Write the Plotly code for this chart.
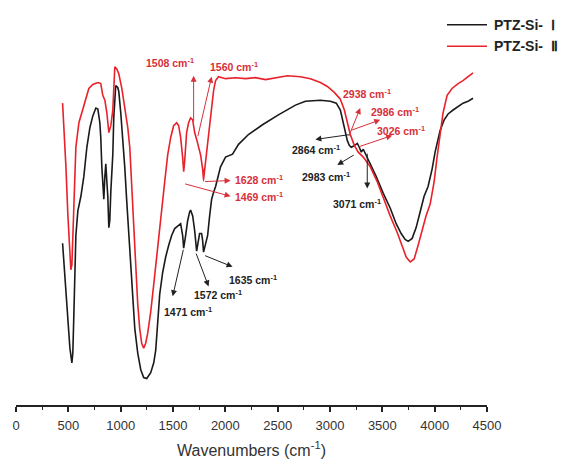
import plotly.graph_objects as go

# PTZ-Si-I (black) : wavenumber, transmittance (a.u.)
wn_1 = [445, 458, 477, 496, 515, 534, 543, 553, 563, 572, 591, 620, 648, 677, 706, 734, 763, 782, 801, 810,
        820, 829, 839, 849, 858, 868, 877, 887, 896, 906, 925, 934, 944, 953, 972, 982, 1001, 1020, 1039, 1058,
        1077, 1096, 1115, 1135, 1163, 1192, 1220, 1249, 1287, 1316, 1335, 1354, 1373, 1401, 1430, 1459, 1487,
        1516, 1545, 1573, 1592, 1602, 1621, 1640, 1659, 1668, 1688, 1707, 1726, 1735, 1754, 1773, 1783, 1792,
        1811, 1831, 1850, 1869, 1888, 1907, 1954, 2002, 2069, 2126, 2221, 2355, 2507, 2670, 2765,
        2908, 3003, 3060, 3099, 3127, 3146, 3165, 3184, 3203, 3222, 3242, 3261, 3280, 3299, 3318, 3346, 3385,
        3442, 3509, 3575, 3632, 3680, 3718, 3747, 3785, 3823, 3861, 3899, 3937, 3976, 4004, 4023, 4052, 4091,
        4128, 4176, 4224, 4271, 4319, 4367]
t_1 = [165, 143, 113, 83, 58, 43, 53, 93, 138, 173, 198, 213, 233, 263, 283, 295, 303, 302, 288, 273,
       243, 223, 210, 233, 246, 228, 213, 181, 188, 218, 256, 293, 318, 326, 324, 320, 298, 273, 243, 208,
       173, 138, 106, 78, 53, 36, 28, 27, 33, 43, 56, 83, 113, 135, 151, 163, 173,
       180, 183, 185, 173, 160, 173, 188, 197, 199, 193, 178, 157, 163, 175, 175, 168, 156,
       163, 173, 193, 210, 217, 223, 243, 253, 256, 266, 276, 286, 296, 306, 310,
       311, 310, 308, 301, 288, 278, 270, 265, 263, 264, 266, 267, 263, 258, 261, 255, 246,
       233, 216, 201, 185, 175, 169, 167, 170, 181, 197, 213, 223, 241, 258, 268, 280, 291,
       297, 301, 305, 308, 310, 313]

# PTZ-Si-II (red)
wn_2 = [445, 458, 477, 496, 515, 524, 534, 543, 553, 572, 601, 620, 658, 696, 734, 782, 810, 829, 849, 868,
        887, 906, 925, 934, 944, 963, 982, 1011, 1039, 1068, 1087, 1106, 1125, 1144, 1163, 1182, 1201, 1220,
        1239, 1258, 1287, 1316, 1344, 1382, 1421, 1449, 1478, 1506, 1535, 1554, 1573, 1592, 1602, 1611, 1630,
        1649, 1668, 1688, 1707, 1726, 1745, 1764, 1783, 1792, 1811, 1831, 1850, 1869, 1888, 1907, 1935, 2002,
        2097, 2193, 2288, 2384, 2479, 2593, 2717, 2813, 2908, 2975, 3041, 3099, 3137, 3165, 3194, 3232, 3270,
        3318, 3385, 3451, 3518, 3575, 3642, 3690, 3728, 3766, 3804, 3842, 3880, 3918, 3957, 3995, 4023, 4052,
        4080, 4119, 4166, 4224, 4271, 4319, 4367]
t_2 = [308, 283, 243, 193, 153, 138, 143, 173, 213, 263, 288, 295, 308, 323, 327, 329, 328, 316, 311, 298,
       278, 285, 301, 328, 345, 343, 338, 323, 303, 283, 263, 223, 173, 133, 103, 78, 63, 58,
       63, 73, 95, 123, 153, 190, 228, 255, 273, 285, 288, 285, 273, 253, 238, 248, 278,
       288, 293, 291, 278, 271, 263, 255, 241, 230, 248, 268, 288, 308, 321, 331, 335, 333,
       334, 333, 334, 332, 334, 336, 335, 333, 329, 325, 319, 312, 301, 288, 276, 265, 258,
       253, 243, 228, 208, 193, 176, 161, 151, 146, 149, 163, 178, 193, 205, 228, 253, 275,
       298, 316, 323, 328, 331, 335, 339]

names = ["PTZ-Si-  Ⅰ", "PTZ-Si-  Ⅱ"]
colors = ["#1a1a1a", "#e8222a"]

# annotations: label, text x, text y, anchor, tail x, tail y, head x, head y, colour index
labels = ["1508", "1560", "1628", "1469", "2938", "2986", "3026",
          "2864", "2983", "3071", "1635", "1572", "1471"]
text_x = [1468, 2078, 2069, 2069, 3356, 3623, 3680, 2870, 2965, 3261, 2269, 1926, 1640]
text_y = [350, 345, 230, 213, 318, 300, 280, 261, 233, 206, 128, 113, 95]
text_anchor = ["center", "center", "left", "left", "center", "center", "center",
               "center", "center", "center", "center", "center", "center"]
tail_x = [1697, 1735, 1792, 1602, 3175, 3194, 3261, 3194, 3242, 3356, 1792, 1716, 1602]
tail_y = [288, 273, 228, 226, 273, 280, 263, 276, 256, 258, 153, 156, 160]
head_x = [1697, 1869, 2050, 2050, 3289, 3480, 3594, 2860, 3070, 3356, 2069, 1840, 1497]
head_y = [336, 335, 229, 213, 303, 291, 275, 271, 245, 221, 141, 121, 111]
ann_color = [1, 1, 1, 1, 1, 1, 1, 0, 0, 0, 0, 0, 0]

fig = go.Figure()
fig.add_trace(go.Scatter(x=wn_1, y=t_1, mode="lines", name=names[0], showlegend=False,
                         line=dict(color=colors[0], width=1.6)))
fig.add_trace(go.Scatter(x=wn_2, y=t_2, mode="lines", name=names[1], showlegend=False,
                         line=dict(color=colors[1], width=1.6)))

anns = []
for i in range(len(labels)):
    c = "#d8303a" if ann_color[i] == 1 else "#222222"
    anns.append(dict(x=head_x[i], y=head_y[i], ax=tail_x[i], ay=tail_y[i], xref="x", yref="y",
                     axref="x", ayref="y", text="", showarrow=True, arrowhead=2, arrowsize=1.2,
                     arrowwidth=1, arrowcolor=c, standoff=0, startstandoff=0))
    anns.append(dict(x=text_x[i], y=text_y[i], xref="x", yref="y", showarrow=False,
                     text="<b>" + labels[i] + " cm<sup>-1</sup></b>", xanchor=text_anchor[i],
                     font=dict(size=10.5, color=c, family="Liberation Sans")))

# hand-drawn legend (paper coordinates)
legend_y = [0.97, 0.915]
for i in range(2):
    fig.add_shape(type="line", xref="paper", yref="paper", x0=0.915, x1=1.0,
                  y0=legend_y[i], y1=legend_y[i], line=dict(color=colors[i], width=1.6))
    anns.append(dict(x=1.011, y=legend_y[i], xref="paper", yref="paper", showarrow=False,
                     xanchor="left", yanchor="middle", text="<b>" + names[i] + "</b>",
                     font=dict(size=14, color="#222", family="Liberation Sans")))

# L-shaped leader for the 1628 label
fig.add_shape(type="line", x0=tail_x[2], x1=tail_x[2], y0=tail_y[2], y1=241,
              line=dict(color="#d8303a", width=1))

fig.update_layout(
    width=568, height=469,
    margin=dict(l=15, r=81, t=13, b=56),
    plot_bgcolor="white", paper_bgcolor="white",
    font=dict(family="Liberation Sans", color="#222"),
    annotations=anns,
    showlegend=False,
    xaxis=dict(range=[0, 4500], tickmode="array", tickvals=list(range(0, 4501, 500)),
               showline=True, linecolor="#222", linewidth=1.5, ticks="outside", ticklen=5,
               tickwidth=1.5, tickcolor="#222", showgrid=False, zeroline=False,
               ticklabelstandoff=3,
               tickfont=dict(size=13, color="#333"),
               minor=dict(dtick=250, ticks="outside", ticklen=3, tickwidth=1.2, tickcolor="#222"),
               title=dict(text="Wavenumbers (cm<sup>-1</sup>)", font=dict(size=16, color="#333"),
                          standoff=12)),
    yaxis=dict(range=[0, 400], visible=False),
)

fig.write_html("out.html")
